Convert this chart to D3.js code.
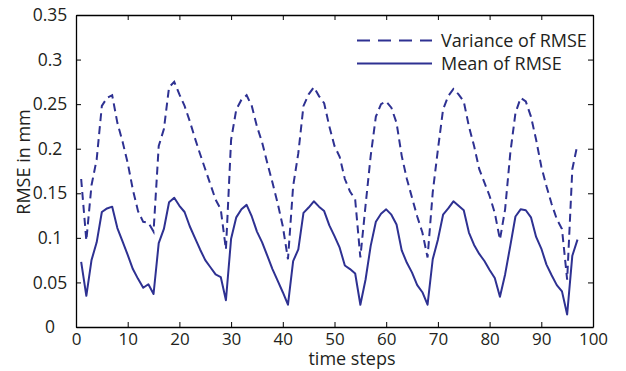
<!DOCTYPE html>
<html>
<head>
<meta charset="utf-8">
<script src="https://cdn.jsdelivr.net/npm/d3@7"></script>
<style>
  body { margin: 0; background: #fff; }
  svg text { font-family: "Open Sans", "Noto Sans", sans-serif; fill: #231f20; }
</style>
</head>
<body>
<svg id="chart" width="626" height="371"></svg>
<script>
// RMSE over time steps: mean and variance, one value per step from 1 to 97.
const steps = d3.range(1, 98);

const variance = [
  0.166, 0.097, 0.159, 0.188, 0.248, 0.257, 0.260, 0.229, 0.208, 0.184,
  0.154, 0.130, 0.118, 0.117, 0.107, 0.203, 0.222, 0.269, 0.275, 0.261,
  0.248, 0.231, 0.212, 0.194, 0.177, 0.160, 0.143, 0.132, 0.087, 0.210,
  0.244, 0.255, 0.260, 0.248, 0.225, 0.207, 0.184, 0.162, 0.139, 0.113,
  0.076, 0.158, 0.195, 0.248, 0.261, 0.269, 0.259, 0.251, 0.225, 0.203,
  0.191, 0.166, 0.152, 0.143, 0.078, 0.136, 0.192, 0.236, 0.250, 0.253,
  0.246, 0.229, 0.192, 0.166, 0.145, 0.124, 0.106, 0.078, 0.151, 0.199,
  0.244, 0.259, 0.267, 0.261, 0.253, 0.225, 0.203, 0.177, 0.162, 0.147,
  0.128, 0.098, 0.132, 0.195, 0.240, 0.257, 0.253, 0.236, 0.210, 0.180,
  0.158, 0.138, 0.121, 0.110, 0.053, 0.177, 0.205
];

const mean = [
  0.073, 0.035, 0.075, 0.095, 0.129, 0.133, 0.135, 0.111, 0.096, 0.081,
  0.065, 0.054, 0.044, 0.048, 0.037, 0.094, 0.110, 0.140, 0.145, 0.136,
  0.129, 0.113, 0.100, 0.087, 0.075, 0.067, 0.059, 0.056, 0.030, 0.099,
  0.123, 0.132, 0.137, 0.124, 0.107, 0.095, 0.080, 0.065, 0.052, 0.039,
  0.025, 0.074, 0.087, 0.128, 0.134, 0.141, 0.135, 0.130, 0.114, 0.102,
  0.089, 0.069, 0.065, 0.060, 0.025, 0.053, 0.091, 0.118, 0.127, 0.132,
  0.126, 0.115, 0.086, 0.072, 0.061, 0.047, 0.039, 0.025, 0.076, 0.098,
  0.126, 0.133, 0.141, 0.136, 0.131, 0.106, 0.092, 0.082, 0.074, 0.064,
  0.055, 0.034, 0.059, 0.091, 0.124, 0.132, 0.131, 0.123, 0.101, 0.088,
  0.070, 0.058, 0.047, 0.040, 0.014, 0.080, 0.098
];

const xTicks = d3.range(0, 101, 10);
const yTicks = [0, 0.05, 0.1, 0.15, 0.2, 0.25, 0.3, 0.35];
const yTickLabels = ["0", "0.05", "0.1", "0.15", "0.2", "0.25", "0.3", "0.35"];

const seriesNames = ["Variance of RMSE", "Mean of RMSE"];

const LINE_COLOR = "#2e3192";
const margin = { top: 15, right: 33, bottom: 44, left: 76 };
const width = 626, height = 371;

const svg = d3.select("#chart");

const x = d3.scaleLinear().domain([0, 100]).range([margin.left, width - margin.right]);
const y = d3.scaleLinear().domain([0, 0.35]).range([height - margin.bottom, margin.top]);

const fmtY = (d) => yTickLabels[yTicks.indexOf(d)];

// Ticks point inward on all four sides, like a MATLAB box.
const axisBottom = d3.axisBottom(x).tickValues(xTicks).tickSizeInner(-5).tickSizeOuter(0).tickPadding(9);
const axisTop = d3.axisTop(x).tickValues(xTicks).tickSizeInner(-5).tickSizeOuter(0).tickFormat("");
const axisLeft = d3.axisLeft(y).tickValues(yTicks).tickSizeInner(-5).tickSizeOuter(0).tickFormat(fmtY).tickPadding(10);
const axisRight = d3.axisRight(y).tickValues(yTicks).tickSizeInner(-5).tickSizeOuter(0).tickFormat("");

function styleAxis(g) {
  g.select(".domain").attr("stroke", "#000").attr("stroke-width", 1.3);
  g.selectAll(".tick line").attr("stroke", "#000").attr("stroke-width", 1);
  g.selectAll("text").attr("font-size", 17.5).attr("fill", "#231f20")
    .attr("font-family", '"Open Sans", "Noto Sans", sans-serif');
}

svg.append("g").attr("transform", `translate(0,${y(0)})`).call(axisBottom).call(styleAxis)
  .selectAll("text").attr("font-size", 17).attr("dy", "0.55em");
svg.append("g").attr("transform", `translate(0,${y(0.35)})`).call(axisTop).call(styleAxis);
svg.append("g").attr("transform", `translate(${x(0)},0)`).call(axisLeft).call(styleAxis)
  .selectAll("text").attr("text-anchor", "middle").attr("x", -26);
svg.append("g").attr("transform", `translate(${x(100)},0)`).call(axisRight).call(styleAxis);

// Lines
const line = (vals) => d3.line().x((d, i) => x(steps[i])).y((d) => y(d))(vals);

svg.append("path")
  .attr("d", line(variance))
  .attr("fill", "none")
  .attr("stroke", LINE_COLOR)
  .attr("stroke-width", 2)
  .attr("stroke-dasharray", "8,5");

svg.append("path")
  .attr("d", line(mean))
  .attr("fill", "none")
  .attr("stroke", LINE_COLOR)
  .attr("stroke-width", 2)
  .attr("stroke-linejoin", "round");

// Axis titles
svg.append("text")
  .attr("x", 352).attr("y", 365)
  .attr("text-anchor", "middle")
  .attr("font-size", 18)
  .text("time steps");

svg.append("text")
  .attr("transform", "translate(30,162) rotate(-90)")
  .attr("text-anchor", "middle")
  .attr("font-size", 18)
  .text("RMSE in mm");

// Legend, no frame
const legend = svg.append("g");
seriesNames.forEach((name, i) => {
  const ly = 40.5 + i * 23;
  legend.append("line")
    .attr("x1", 357).attr("x2", 432).attr("y1", ly).attr("y2", ly)
    .attr("stroke", LINE_COLOR).attr("stroke-width", 2)
    .attr("stroke-dasharray", i === 0 ? "13,8" : null);
  legend.append("text")
    .attr("x", 441).attr("y", ly).attr("dy", "0.35em")
    .attr("font-size", 18)
    .text(name);
});
</script>
</body>
</html>
